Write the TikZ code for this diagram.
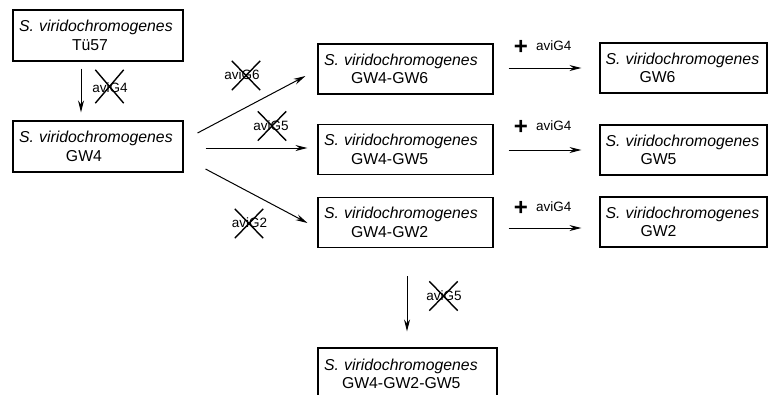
\documentclass[tikz,border=0pt]{standalone}
\usepackage{fontspec}
\setmainfont{Liberation Sans}
\usetikzlibrary{arrows.meta,shapes.misc}

\tikzset{
  strain/.style={draw, line width=1.1pt, align=left, inner xsep=6pt, inner ysep=0pt,
    font=\fontsize{15.8}{18.5}\selectfont},
  midstrain/.style={strain, text width=163pt, minimum height=50pt},
  endstrain/.style={strain, inner xsep=5.5pt, text width=156pt, minimum height=50pt},
  arr/.style={line width=1pt, -{Stealth[length=12pt,width=6pt]}},
  gene/.style={font=\fontsize{13.5}{14}\selectfont, inner sep=0pt},
  knockout/.style={cross out, draw, line width=1.4pt, inner sep=0pt,
    minimum width=27pt, minimum height=28pt},
  plusmark/.style={font=\fontsize{24}{24}\selectfont\bfseries, inner sep=0pt}
}
\newcommand{\spname}{\textit{S. viridochromogenes}}

\begin{document}
\begin{tikzpicture}[x=1pt,y=-1pt]
\clip (0,0) rectangle (768,394);
\fill[white] (0,0) rectangle (768,394);

% strains
\node[strain, text width=158pt, minimum height=51pt] (t57) at (98,35.5)
  {\spname\\\hspace*{53pt}Tü57};
\node[strain, text width=158pt, minimum height=51pt] (gw4) at (98,146.5)
  {\spname\\\hspace*{47pt}GW4};
\node[midstrain] (gw46) at (405.5,69)    {\spname\\\hspace*{27pt}GW4-GW6};
\node[midstrain] (gw45) at (405.5,149.5) {\spname\\\hspace*{27pt}GW4-GW5};
\node[midstrain] (gw42) at (405.5,222.5) {\spname\\\hspace*{27pt}GW4-GW2};
\node[endstrain] (gw6) at (683.5,68)  {\spname\\\hspace*{34pt}GW6};
\node[endstrain] (gw5) at (683.5,150) {\spname\\\hspace*{35pt}GW5};
\node[endstrain] (gw2) at (683.5,222) {\spname\\\hspace*{35pt}GW2};
\node[strain, text width=167pt, minimum height=52pt] (gw425) at (407.5,374)
  {\spname\\\hspace*{18pt}GW4-GW2-GW5};

% deletions
\draw[arr] ([shift={(-17,7)}]t57.south) -- ([shift={(-17,-8)}]gw4.north);
\draw[arr] ([shift={(14,-13.5)}]gw4.east) -- ([shift={(-12,7)}]gw46.west);
\draw[arr] ([shift={(22,1.5)}]gw4.east) -- ([shift={(-10,-1.5)}]gw45.west);
\draw[arr] ([shift={(22,22.5)}]gw4.east) -- ([shift={(-10,0.5)}]gw42.west);
\draw[arr] ([shift={(1.5,28)}]gw42.south) -- ([shift={(-0.5,-16)}]gw425.north);

% complementation
\draw[arr] ([shift={(15,-1)}]gw46.east) -- ([shift={(-18,0)}]gw6.west);
\draw[arr] ([shift={(15,0.5)}]gw45.east) -- ([shift={(-18,0)}]gw5.west);
\draw[arr] ([shift={(15,5.5)}]gw42.east) -- ([shift={(-18,6)}]gw2.west);

% deleted genes
\node[gene] (d4) at (110,88) {aviG4};
\node[knockout, minimum height=32pt] (x4) at (109.5,86.5) {};
\node[gene] (d6) at (242,75) {aviG6};
\node[knockout] (x6) at (246,75.5) {};
\node[gene] (d5) at (271,126) {aviG5};
\node[knockout] (x5) at (272,126) {};
\node[gene] (d2) at (249.5,223) {aviG2};
\node[knockout] (x2) at (249,223.5) {};
\node[gene] (d5b) at (444,296) {aviG5};
\node[knockout] (x5b) at (443.5,296) {};

% added genes
\node[plusmark] (p6) at (521,47) {+};
\node[gene, anchor=west] (a6) at (536,45.5) {aviG4};
\node[plusmark] (p5) at (521,127) {+};
\node[gene, anchor=west] (a5) at (536,125.5) {aviG4};
\node[plusmark] (p2) at (521,208) {+};
\node[gene, anchor=west] (a2) at (536,206.5) {aviG4};
\end{tikzpicture}
\end{document}
